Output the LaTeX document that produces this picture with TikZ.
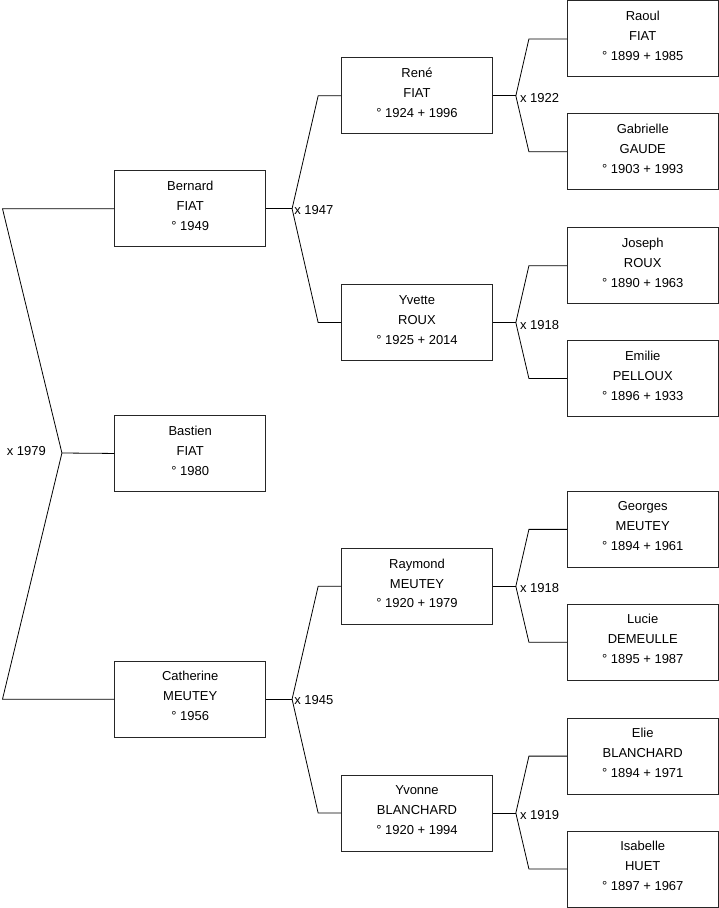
\documentclass[tikz,border=0pt]{standalone}
\usepackage{fontspec}
\setmainfont{Liberation Sans}
\begin{document}
\begin{tikzpicture}[x=1pt,y=-1pt,
  person/.style={draw=black!85, line width=0.9pt, anchor=north west, minimum width=151pt, minimum height=76pt,
    inner sep=0pt, align=center, font=\fontsize{13}{20}\selectfont},
  link/.style={draw=black, line width=0.8pt},
  marr/.style={inner sep=0pt, font=\fontsize{13}{14}\selectfont}]
\useasboundingbox (0,0) rectangle (719,909);
% column 1
\node[person] (bernard) at (114.5,170.5) {Bernard\\FIAT\\° 1949\\[-14pt]};
\node[person] (bastien) at (114.5,415.5) {Bastien\\FIAT\\° 1980\\[-14pt]};
\node[person] (catherine) at (114.5,661.5) {Catherine\\MEUTEY\\° 1956\\[-14pt]};
% column 2
\node[person] (rene) at (341.5,57.5) {René\\FIAT\\° 1924 + 1996\\[-14pt]};
\node[person] (yvette) at (341.5,284.5) {Yvette\\ROUX\\° 1925 + 2014\\[-14pt]};
\node[person] (raymond) at (341.5,548.5) {Raymond\\MEUTEY\\° 1920 + 1979\\[-14pt]};
\node[person] (yvonne) at (341.5,775.5) {Yvonne\\BLANCHARD\\° 1920 + 1994\\[-14pt]};
% column 3
\node[person] (raoul) at (567.5,0.5) {Raoul\\FIAT\\° 1899 + 1985\\[-14pt]};
\node[person] (gabrielle) at (567.5,113.5) {Gabrielle\\GAUDE\\° 1903 + 1993\\[-14pt]};
\node[person] (joseph) at (567.5,227.5) {Joseph\\ROUX\\° 1890 + 1963\\[-14pt]};
\node[person] (emilie) at (567.5,340.5) {Emilie\\PELLOUX\\° 1896 + 1933\\[-14pt]};
\node[person] (georges) at (567.5,491.5) {Georges\\MEUTEY\\° 1894 + 1961\\[-14pt]};
\node[person] (lucie) at (567.5,604.5) {Lucie\\DEMEULLE\\° 1895 + 1987\\[-14pt]};
\node[person] (elie) at (567.5,718.5) {Elie\\BLANCHARD\\° 1894 + 1971\\[-14pt]};
\node[person] (isabelle) at (567.5,831.5) {Isabelle\\HUET\\° 1897 + 1967\\[-14pt]};
% junctions
\coordinate (j0) at (62,453.5);
% level 0
\draw[link] (bastien.west) -- (j0);
\draw[link] (bernard.west) -- ++(-112,0) -- (j0);
\draw[link] (catherine.west) -- ++(-112,0) -- (j0);
\node[marr, anchor=east] (m0) at (46,451.5) {x 1979};
% level 1
\foreach \c/\a/\b/\lab in {bernard/rene/yvette/1947, catherine/raymond/yvonne/1945}{
  \draw[link] (\c.east) -- ++(26,0) coordinate (\c-j);
  \draw[link] (\a.west) -- ++(-23,0) -- (\c-j);
  \draw[link] (\b.west) -- ++(-23,0) -- (\c-j);
  \node[marr, anchor=west] (m\c) at ([xshift=2pt,yshift=-1pt]\c-j) {x \lab};
}
% level 2
\foreach \c/\a/\b/\lab in {rene/raoul/gabrielle/1922, yvette/joseph/emilie/1918, raymond/georges/lucie/1918, yvonne/elie/isabelle/1919}{
  \draw[link] (\c.east) -- ++(23,0) coordinate (\c-j);
  \draw[link] (\a.west) -- ++(-38,0) -- (\c-j);
  \draw[link] (\b.west) -- ++(-38,0) -- (\c-j);
  \node[marr, anchor=west] (m\c) at ([xshift=4pt,yshift=-2pt]\c-j) {x \lab};
}
\end{tikzpicture}
\end{document}
